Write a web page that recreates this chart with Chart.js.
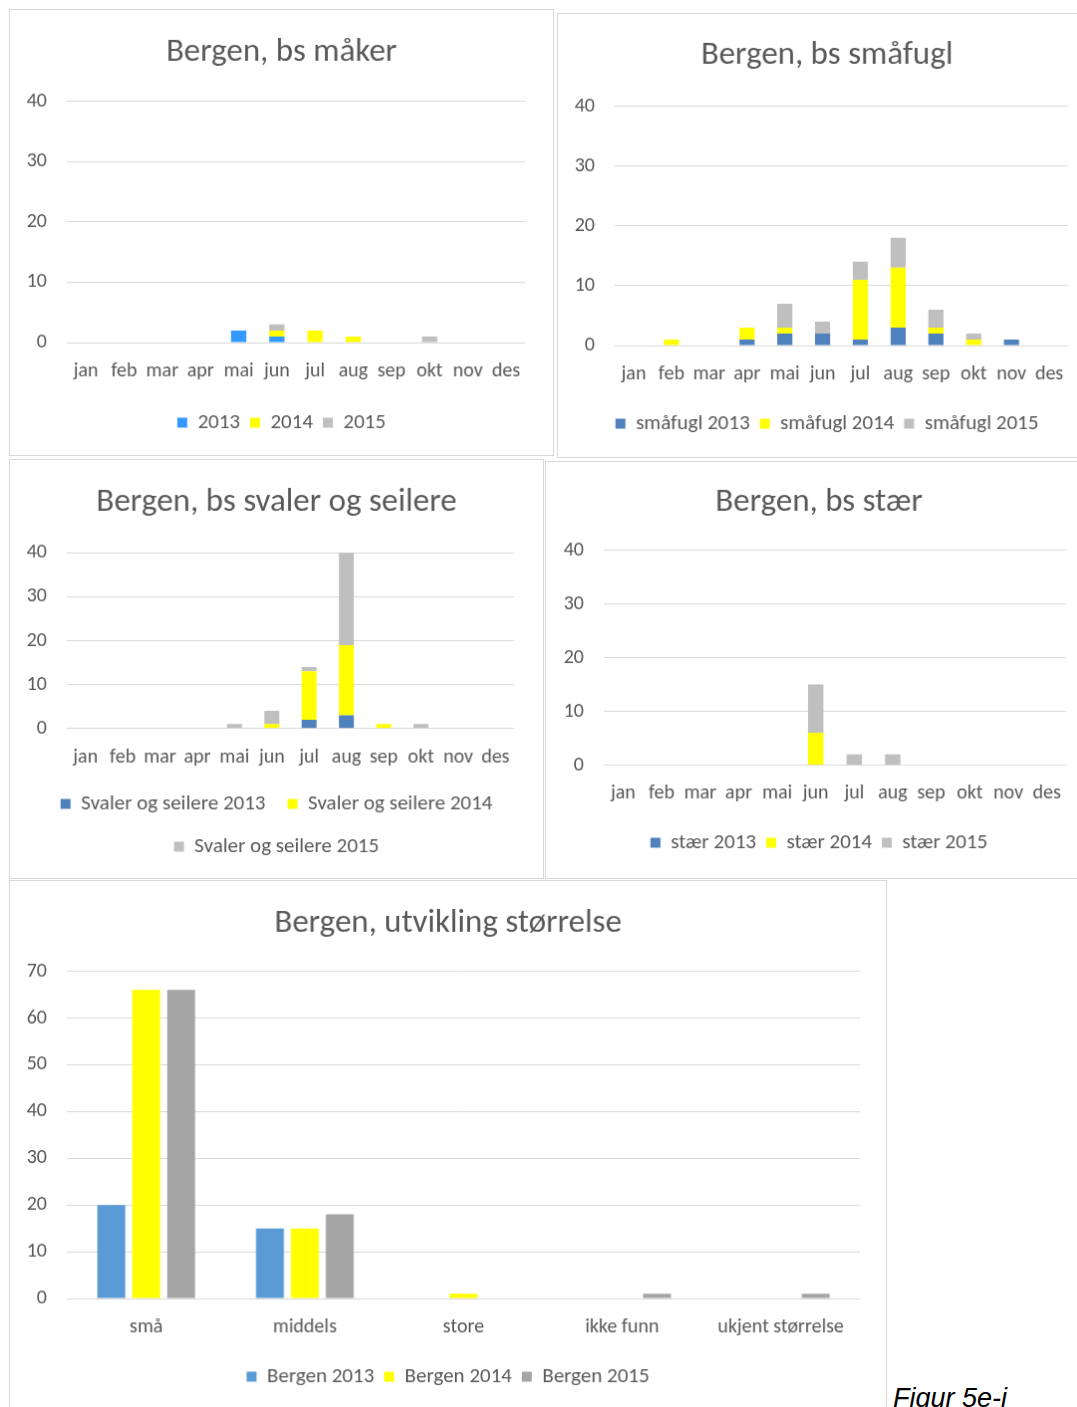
<!DOCTYPE html>
<html>
<head>
<meta charset="utf-8">
<script src="https://cdn.jsdelivr.net/npm/chart.js@4"></script>
<style>
  body { margin: 0; background: #fff; width: 1077px; height: 1407px; overflow: hidden; position: relative; }
  canvas { position: absolute; border: 1px solid #d9d9d9; background: #fff; }
  #figur { position: absolute; left: 893px; top: 1383px; font: italic 27px "Liberation Sans", Arial, sans-serif; color: #000; }
</style>
</head>
<body>
<canvas id="maker" width="545" height="447" style="left:9px;top:9px"></canvas>
<canvas id="smafugl" width="540" height="445" style="left:557px;top:13px"></canvas>
<canvas id="svaler" width="535" height="420" style="left:9px;top:459px"></canvas>
<canvas id="staer" width="548" height="418" style="left:545px;top:461px"></canvas>
<canvas id="storrelse" width="878" height="540" style="left:9px;top:880px"></canvas>
<div id="figur">Figur 5e-i</div>
<script>
const months = ['jan', 'feb', 'mar', 'apr', 'mai', 'jun', 'jul', 'aug', 'sep', 'okt', 'nov', 'des'];

const maker2013 = [0, 0, 0, 0, 2, 1, 0, 0, 0, 0, 0, 0];
const maker2014 = [0, 0, 0, 0, 0, 1, 2, 1, 0, 0, 0, 0];
const maker2015 = [0, 0, 0, 0, 0, 1, 0, 0, 0, 1, 0, 0];

const smafugl2013 = [0, 0, 0, 1, 2, 2, 1, 3, 2, 0, 1, 0];
const smafugl2014 = [0, 1, 0, 2, 1, 0, 10, 10, 1, 1, 0, 0];
const smafugl2015 = [0, 0, 0, 0, 4, 2, 3, 5, 3, 1, 0, 0];

const svaler2013 = [0, 0, 0, 0, 0, 0, 2, 3, 0, 0, 0, 0];
const svaler2014 = [0, 0, 0, 0, 0, 1, 11, 16, 1, 0, 0, 0];
const svaler2015 = [0, 0, 0, 0, 1, 3, 1, 21, 0, 1, 0, 0];

const staer2013 = [0, 0, 0, 0, 0, 0, 0, 0, 0, 0, 0, 0];
const staer2014 = [0, 0, 0, 0, 0, 6, 0, 0, 0, 0, 0, 0];
const staer2015 = [0, 0, 0, 0, 0, 9, 2, 2, 0, 0, 0, 0];

const sizes = ['små', 'middels', 'store', 'ikke funn', 'ukjent størrelse'];
const bergen2013 = [20, 15, 0, 0, 0];
const bergen2014 = [66, 15, 1, 0, 0];
const bergen2015 = [66, 18, 0, 1, 1];

const textColor = '#595959';
const gridColor = '#d9d9d9';

Chart.defaults.font.family = 'Carlito, Lato, sans-serif';
Chart.defaults.color = textColor;
Chart.defaults.animation = false;

function makeChart(id, opts) {
    return new Chart(id, {
        type: 'bar',
        data: {
            labels: opts.labels,
            datasets: opts.datasets,
        },
        options: {
            responsive: false,
            layout: {
                padding: { left: 0, right: 0, top: 0, bottom: opts.bottom },
            },
            plugins: {
                tooltip: { enabled: false },
                title: {
                    display: true,
                    text: opts.title,
                    color: textColor,
                    font: { size: 33, weight: 'normal' },
                    padding: { top: opts.titleTop, bottom: opts.titleBottom },
                },
                legend: {
                    position: 'bottom',
                    labels: {
                        boxWidth: 10,
                        boxHeight: 10,
                        padding: opts.legendPadding || 10,
                        color: textColor,
                        font: { size: 21 },
                    },
                },
            },
            scales: {
                x: {
                    stacked: opts.stacked,
                    grid: { display: false, drawTicks: false },
                    border: { display: false },
                    ticks: {
                        autoSkip: false,
                        maxRotation: 0,
                        minRotation: 0,
                        padding: opts.xPad,
                        color: textColor,
                        font: { size: 20 },
                    },
                    afterFit: scale => { scale.height = opts.xHeight; },
                },
                y: {
                    stacked: opts.stacked,
                    min: 0,
                    max: opts.max,
                    grid: { color: gridColor, drawTicks: false },
                    border: { display: false },
                    ticks: {
                        stepSize: 10,
                        padding: 20,
                        color: textColor,
                        font: { size: 20 },
                    },
                    afterFit: scale => { scale.width = opts.yWidth; },
                },
                // empty right-hand axis, only keeps the white margin on the right
                gap: {
                    position: 'right',
                    grid: { display: false, drawTicks: false },
                    border: { display: false },
                    ticks: { display: false },
                    afterFit: scale => { scale.width = opts.rightGap; },
                },
            },
        },
    });
}

function monthSet(label, data, color) {
    return { label: label, data: data, backgroundColor: color, barPercentage: 0.4, categoryPercentage: 1 };
}

makeChart('maker', {
    title: 'Bergen, bs måker',
    labels: months,
    stacked: true,
    max: 40,
    datasets: [
        monthSet('2013', maker2013, '#3399ff'),
        monthSet('2014', maker2014, '#ffff00'),
        monthSet('2015', maker2015, '#bfbfbf'),
    ],
    bottom: 12, rightGap: 28,
    titleTop: 22.7, titleBottom: 29.3,
    xHeight: 60, xPad: 17, yWidth: 57,
});

makeChart('smafugl', {
    title: 'Bergen, bs småfugl',
    labels: months,
    stacked: true,
    max: 40,
    datasets: [
        monthSet('småfugl 2013', smafugl2013, '#4f81bd'),
        monthSet('småfugl 2014', smafugl2014, '#ffff00'),
        monthSet('småfugl 2015', smafugl2015, '#bfbfbf'),
    ],
    bottom: 13, rightGap: 28,
    titleTop: 22, titleBottom: 31,
    xHeight: 58, xPad: 16.8, yWidth: 57,
});

makeChart('svaler', {
    title: 'Bergen, bs svaler og seilere',
    labels: months,
    stacked: true,
    max: 40,
    datasets: [
        monthSet('Svaler og seilere 2013', svaler2013, '#4f81bd'),
        monthSet('Svaler og seilere 2014', svaler2014, '#ffff00'),
        monthSet('Svaler og seilere 2015', svaler2015, '#bfbfbf'),
    ],
    bottom: 11, rightGap: 29,
    titleTop: 23, titleBottom: 30.7,
    xHeight: 43.3, xPad: 17, yWidth: 57,
    legendPadding: 22,
});

makeChart('staer', {
    title: 'Bergen, bs stær',
    labels: months,
    stacked: true,
    max: 40,
    datasets: [
        monthSet('stær 2013', staer2013, '#4f81bd'),
        monthSet('stær 2014', staer2014, '#ffff00'),
        monthSet('stær 2015', staer2015, '#bfbfbf'),
    ],
    bottom: 15, rightGap: 26,
    titleTop: 21, titleBottom: 28,
    xHeight: 57.5, xPad: 16.3, yWidth: 58,
});

makeChart('storrelse', {
    title: 'Bergen, utvikling størrelse',
    labels: sizes,
    stacked: false,
    max: 70,
    datasets: [
        { label: 'Bergen 2013', data: bergen2013, backgroundColor: '#5b9bd5', barPercentage: 0.8, categoryPercentage: 0.66 },
        { label: 'Bergen 2014', data: bergen2014, backgroundColor: '#ffff00', barPercentage: 0.8, categoryPercentage: 0.66 },
        { label: 'Bergen 2015', data: bergen2015, backgroundColor: '#a5a5a5', barPercentage: 0.8, categoryPercentage: 0.66 },
    ],
    bottom: 22, rightGap: 26,
    titleTop: 23, titleBottom: 28,
    xHeight: 58, xPad: 16.8, yWidth: 57,
});
</script>
</body>
</html>
